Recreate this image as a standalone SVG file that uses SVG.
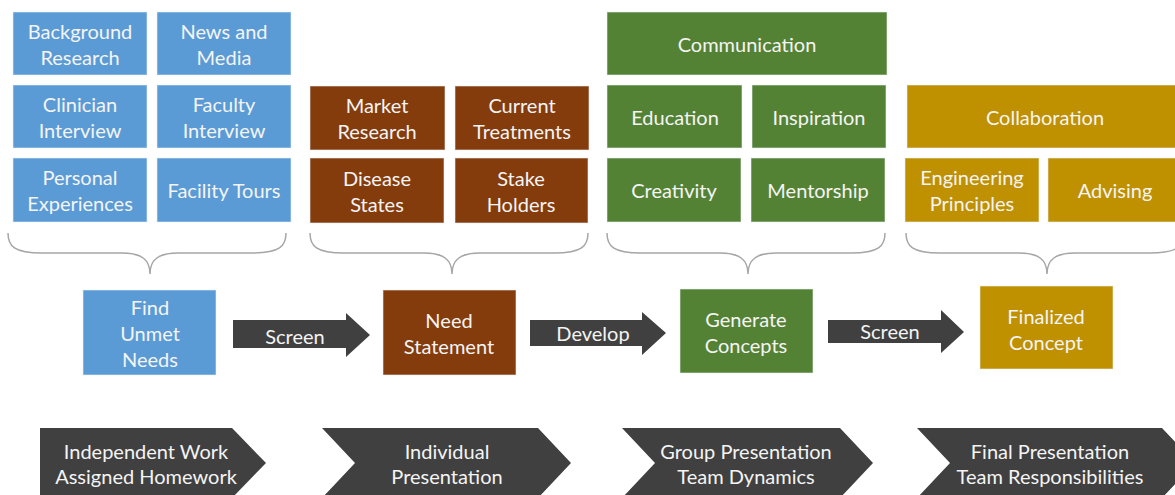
<svg xmlns="http://www.w3.org/2000/svg" width="1175" height="495" viewBox="0 0 1175 495">
<style>
.box{stroke:#e8eef5;stroke-width:1;stroke-opacity:0.6}
.blue{fill:#5b9bd5}
.brown{fill:#843c0c}
.green{fill:#548235}
.gold{fill:#bf9000}
.dark{fill:#404040}
.t{font-family:Lato,"Open Sans",sans-serif;font-size:20px;fill:#f4f4f4;text-anchor:middle;dominant-baseline:central}
.s{font-size:20px}
.brace{fill:none;stroke:#a6a6a6;stroke-width:1.5}
</style>
<rect width="1175" height="495" fill="#ffffff"/>
<g id="blue-inputs">
<g id="background-research"><rect class="box blue" x="13" y="12" width="134" height="63"/><text class="t" x="80" y="31">Background</text><text class="t" x="80" y="57">Research</text></g>
<g id="news-media"><rect class="box blue" x="157" y="12" width="134" height="63"/><text class="t" x="224" y="31">News and</text><text class="t" x="224" y="57">Media</text></g>
<g id="clinician-interview"><rect class="box blue" x="13" y="85" width="134" height="63"/><text class="t" x="80" y="104">Clinician</text><text class="t" x="80" y="130">Interview</text></g>
<g id="faculty-interview"><rect class="box blue" x="157" y="85" width="134" height="63"/><text class="t" x="224" y="104">Faculty</text><text class="t" x="224" y="130">Interview</text></g>
<g id="personal-experiences"><rect class="box blue" x="13" y="158" width="134" height="64"/><text class="t" x="80" y="177">Personal</text><text class="t" x="80" y="203">Experiences</text></g>
<g id="facility-tours"><rect class="box blue" x="157" y="158" width="134" height="64"/><text class="t" x="224" y="190">Facility Tours</text></g>
</g>
<g id="brown-inputs">
<g id="market-research"><rect class="box brown" x="310" y="86" width="135" height="64"/><text class="t" x="377" y="105">Market</text><text class="t" x="377" y="131">Research</text></g>
<g id="current-treatments"><rect class="box brown" x="455" y="86" width="134" height="64"/><text class="t" x="522" y="105">Current</text><text class="t" x="522" y="131">Treatments</text></g>
<g id="disease-states"><rect class="box brown" x="310" y="158" width="134" height="65"/><text class="t" x="377" y="178">Disease</text><text class="t" x="377" y="204">States</text></g>
<g id="stake-holders"><rect class="box brown" x="455" y="158" width="133" height="65"/><text class="t" x="521" y="178">Stake</text><text class="t" x="521" y="204">Holders</text></g>
</g>
<g id="green-inputs">
<g id="communication"><rect class="box green" x="607" y="12" width="280" height="63"/><text class="t" x="747" y="44">Communication</text></g>
<g id="education"><rect class="box green" x="607" y="85" width="135" height="63"/><text class="t" x="675" y="117">Education</text></g>
<g id="inspiration"><rect class="box green" x="752" y="85" width="134" height="63"/><text class="t" x="819" y="117">Inspiration</text></g>
<g id="creativity"><rect class="box green" x="607" y="158" width="134" height="64"/><text class="t" x="674" y="190">Creativity</text></g>
<g id="mentorship"><rect class="box green" x="751" y="158" width="134" height="64"/><text class="t" x="818" y="190">Mentorship</text></g>
</g>
<g id="gold-inputs">
<g id="collaboration"><rect class="box gold" x="907" y="85" width="278" height="63"/><text class="t" x="1045" y="117">Collaboration</text></g>
<g id="engineering-principles"><rect class="box gold" x="905" y="158" width="134" height="64"/><text class="t" x="972" y="177">Engineering</text><text class="t" x="972" y="203">Principles</text></g>
<g id="advising"><rect class="box gold" x="1048" y="158" width="136" height="64"/><text class="t" x="1115" y="190">Advising</text></g>
</g>
<g id="braces">
<path class="brace" d="M8,233 C8,246 14,253 42,253 L122,253 C142,253 150,260 150,274 C150,260 158,253 178,253 L252,253 C280,253 286,246 286,233"/>
<path class="brace" d="M310,233 C310,246 316,253 344,253 L424,253 C444,253 452,260 452,274 C452,260 460,253 480,253 L554,253 C582,253 588,246 588,233"/>
<path class="brace" d="M607,233 C607,246 613,253 641,253 L720,253 C740,253 748,260 748,274 C748,260 756,253 776,253 L851,253 C879,253 885,246 885,233"/>
<path class="brace" d="M906,233 C906,246 912,253 940,253 L1019,253 C1039,253 1047,260 1047,274 C1047,260 1055,253 1075,253 L1150,253 C1178,253 1184,246 1184,233"/>
</g>
<g id="find-unmet-needs"><rect class="box blue" x="83" y="290" width="133" height="85"/><text class="t" x="150" y="307">Find</text><text class="t" x="150" y="333">Unmet</text><text class="t" x="150" y="359">Needs</text></g>
<g id="need-statement"><rect class="box brown" x="383" y="290" width="133" height="85"/><text class="t" x="449" y="320">Need</text><text class="t" x="449" y="346">Statement</text></g>
<g id="generate-concepts"><rect class="box green" x="680" y="289" width="133" height="84"/><text class="t" x="746" y="319">Generate</text><text class="t" x="746" y="345">Concepts</text></g>
<g id="finalized-concept"><rect class="box gold" x="980" y="286" width="133" height="83"/><text class="t" x="1046" y="316">Finalized</text><text class="t" x="1046" y="342">Concept</text></g>
<g id="connectors">
<g id="arrow-screen-1"><polygon class="dark" points="233,320 346,320 346,313 370,335 346,357 346,348 233,348"/><text class="t s" x="295" y="336">Screen</text></g>
<g id="arrow-develop"><polygon class="dark" points="530,320 642,320 642,312 666,333 642,355 642,346 530,346"/><text class="t s" x="593" y="333">Develop</text></g>
<g id="arrow-screen-2"><polygon class="dark" points="828,320 941,320 941,310 964,332 941,353 941,343 828,343"/><text class="t s" x="890" y="331">Screen</text></g>
</g>
<g id="stages">
<g id="stage-1"><polygon class="dark" points="40,428 232,428 266,463 232,498 40,498"/><text class="t s" x="146" y="451">Independent Work</text><text class="t s" x="146" y="476">Assigned Homework</text></g>
<g id="stage-2"><polygon class="dark" points="322,428 538,428 571,463 538,498 322,498 355,463"/><text class="t s" x="447" y="451">Individual</text><text class="t s" x="447" y="476">Presentation</text></g>
<g id="stage-3"><polygon class="dark" points="622,428 840,428 873,463 840,498 622,498 655,463"/><text class="t s" x="746" y="451">Group Presentation</text><text class="t s" x="746" y="476">Team Dynamics</text></g>
<g id="stage-4"><polygon class="dark" points="917,428 1162,428 1195,463 1162,498 917,498 950,463"/><text class="t s" x="1050" y="451">Final Presentation</text><text class="t s" x="1050" y="476">Team Responsibilities</text></g>
</g>
</svg>
